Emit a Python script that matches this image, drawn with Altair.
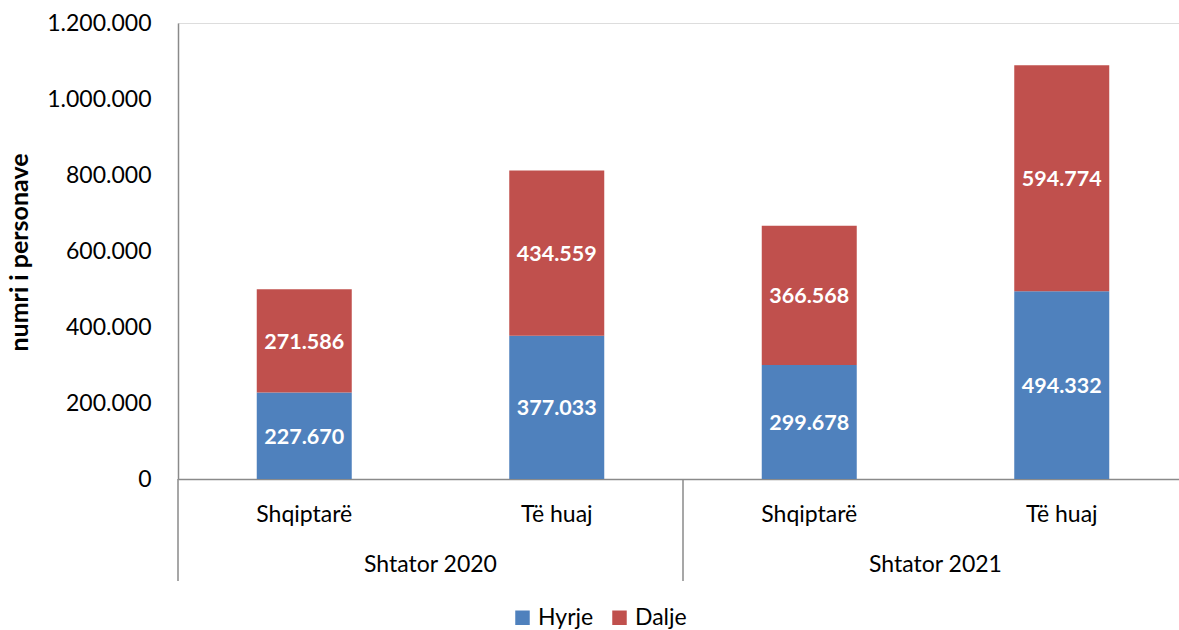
import altair as alt
import pandas as pd

periods = ["Shtator 2020", "Shtator 2020", "Shtator 2021", "Shtator 2021"]
groups = ["Shqiptarë", "Të huaj", "Shqiptarë", "Të huaj"]
hyrje = [227670, 377033, 299678, 494332]
dalje = [271586, 434559, 366568, 594774]
series = ["Hyrje", "Dalje"]
colors = ["#4F81BD", "#C0504D"]
y_ticks = [0, 200000, 400000, 600000, 800000, 1000000, 1200000]

FONT = "Lato"
W, H = 1001, 456

keys = [f"{p}|{g}" for p, g in zip(periods, groups)]
rows = []
for i, k in enumerate(keys):
    rows.append({"key": k, "series": "Hyrje", "order": 0, "value": hyrje[i]})
    rows.append({"key": k, "series": "Dalje", "order": 1, "value": dalje[i]})
df = pd.DataFrame(rows)

first_keys = []
grp_names = []
for p, k in zip(periods, keys):
    if p not in grp_names:
        grp_names.append(p)
        first_keys.append(k)
gdf = pd.DataFrame({"key": first_keys, "period": grp_names})

fmt = "replace(replace(format(datum.value, ','), ',', '.'), ',', '.')"

xscale = alt.Scale(domain=keys, range=[0, 1010], paddingInner=0, paddingOuter=0)

base = alt.Chart(df).transform_stack(
    stack="value", groupby=["key"], as_=["v0", "v1"], sort=[alt.SortField("order")]
).transform_calculate(
    mid="(datum.v0 + datum.v1) / 2",
    lab="replace(replace(format(datum.value, ','), ',', '.'), ',', '.')",
)

bars = base.mark_bar(size=95).encode(
    x=alt.X("key:N", scale=xscale, sort=keys,
            axis=alt.Axis(title=None, labelExpr="split(datum.label, '|')[1]",
                          labelAngle=0, ticks=False, labelPadding=24,
                          labelFontSize=23, labelFont=FONT, labelColor="#000",
                          domainColor="#8a8a8a", domainWidth=1.5)),
    y=alt.Y("v0:Q", scale=alt.Scale(domain=[0, 1200000], nice=False),
            axis=alt.Axis(title="numri i personave", values=y_ticks, grid=False,
                          ticks=False, labelExpr=fmt, labelFontSize=23,
                          labelFont=FONT, labelColor="#000", labelPadding=27,
                          domainColor="#8a8a8a", domainWidth=1.5,
                          titleFont=FONT, titleFontSize=25, titleFontWeight="bold",
                          titleColor="#000", titleAngle=-90, titleX=-159,
                          titleY=H / 2 + 1, titleAlign="center", titleBaseline="middle")),
    y2="v1:Q",
    color=alt.Color("series:N", scale=alt.Scale(domain=series, range=colors),
                    legend=alt.Legend(title=None, orient="none", direction="horizontal",
                                      legendX=333, legendY=583, symbolType="square",
                                      symbolSize=210, symbolStrokeWidth=0,
                                      labelFontSize=23, labelFont=FONT,
                                      labelColor="#000", columnPadding=14,
                                      labelOffset=4, symbolOpacity=1)),
)

labels = base.mark_text(color="white", fontWeight="bold", fontSize=21.5,
                        font=FONT, baseline="middle", dy=2).encode(
    x=alt.X("key:N", scale=xscale, sort=keys),
    y=alt.Y("mid:Q"),
    text="lab:N",
)

sep = alt.Chart(gdf).mark_rule(color="#8a8a8a", strokeWidth=1.5).encode(
    x=alt.X("key:N", scale=xscale, sort=keys, bandPosition=0),
    y=alt.value(H),
    y2=alt.value(H + 102),
)

glab = alt.Chart(gdf).mark_text(fontSize=23, font=FONT, color="#000",
                                baseline="middle").encode(
    x=alt.X("key:N", scale=xscale, sort=keys, bandPosition=1),
    y=alt.value(H + 86),
    text="period:N",
)

chart = alt.layer(bars, labels, sep, glab).properties(
    width=W, height=H,
    autosize=alt.AutoSizeParams(type="none"),
    padding={"left": 178, "top": 23, "right": 0, "bottom": 151},
).configure_view(stroke=None).configure(background="white")

chart.save("out.html", embed_options={"renderer": "svg", "actions": False})
